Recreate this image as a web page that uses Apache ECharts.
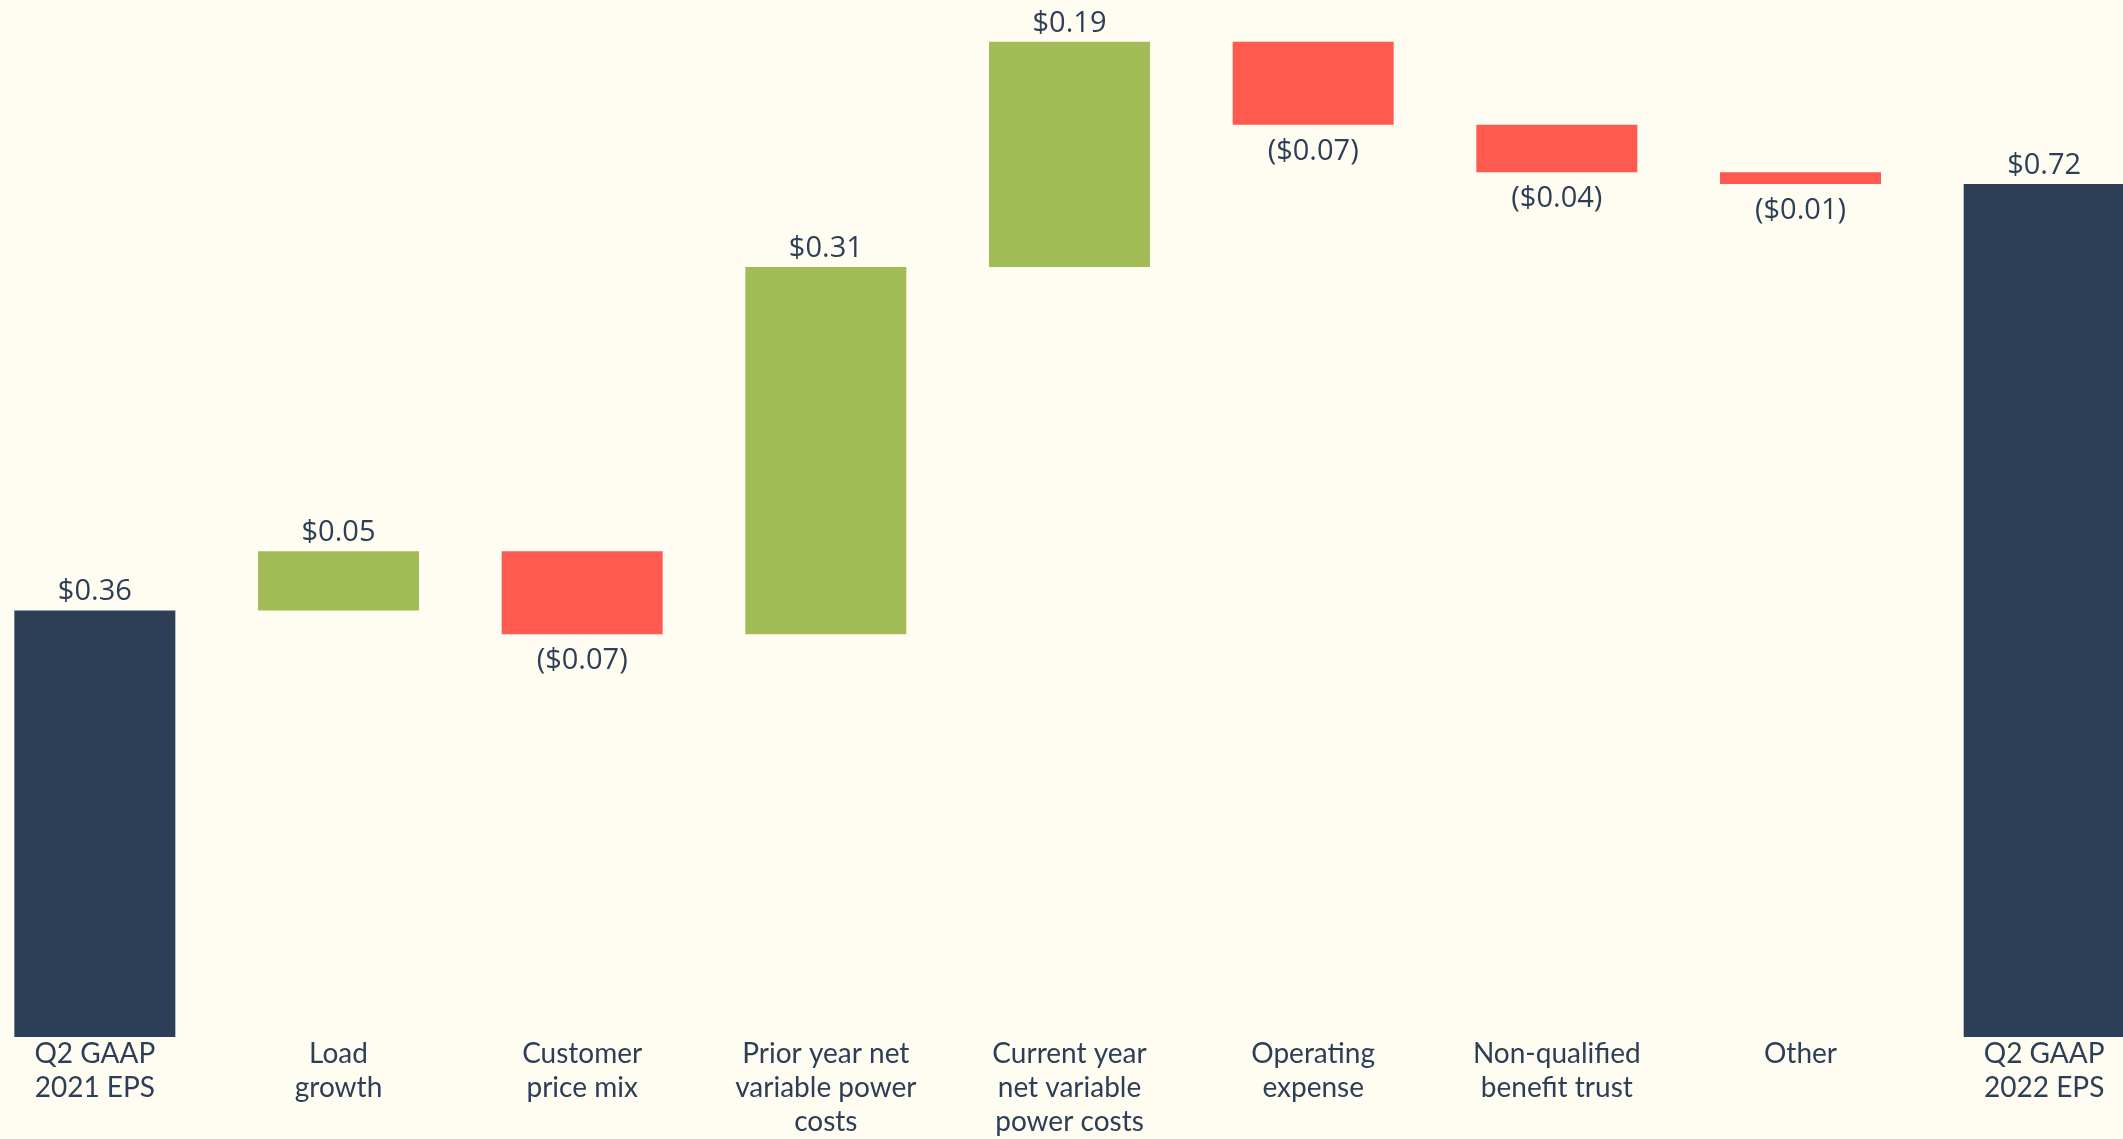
<!DOCTYPE html>
<html>
<head>
<meta charset="utf-8">
<script src="https://cdn.jsdelivr.net/npm/echarts@6/dist/echarts.min.js"></script>
<style>
html,body{margin:0;padding:0;background:#fffdf1;overflow:hidden;width:2123px;height:1139px;}
#c{position:absolute;left:-27px;top:0;width:2193px;height:1139px;}
</style>
</head>
<body>
<div id="c"></div>
<script>
const categories = ["Q2 GAAP\n2021 EPS", "Load\ngrowth", "Customer\nprice mix", "Prior year net\nvariable power\ncosts", "Current year\nnet variable\npower costs", "Operating\nexpense", "Non-qualified\nbenefit trust", "Other", "Q2 GAAP\n2022 EPS"];
const kinds = ["total", "delta", "delta", "delta", "delta", "delta", "delta", "delta", "total"];
const values = [0.36, 0.05, -0.07, 0.31, 0.19, -0.07, -0.04, -0.01, 0.72];

const NAVY = "#2c3f56", GREEN = "#a2bd57", RED = "#ff5a4f";

const base = [], visible = [];
let running = 0;
values.forEach((v, i) => {
  if (kinds[i] === "total") {
    base.push(0); visible.push({value: v, kind: "total", raw: v});
    running = v;
  } else {
    const start = running, end = running + v;
    base.push(Math.min(start, end));
    visible.push({value: Math.abs(v), kind: v >= 0 ? "up" : "down", raw: v});
    running = end;
  }
});

const fmt = v => v < 0 ? "($" + Math.abs(v).toFixed(2) + ")" : "$" + v.toFixed(2);

const chart = echarts.init(document.getElementById("c"));
chart.setOption({
  backgroundColor: "#fffdf1",
  animation: false,
  grid: {left: 0, right: 0, top: 30, bottom: 92, containLabel: false},
  xAxis: {
    type: "category", data: categories,
    axisLine: {show: false}, axisTick: {show: false},
    axisLabel: {interval: 0, color: NAVY, fontFamily: "Lato", fontSize: 28, lineHeight: 34, margin: 0, verticalAlign: "top"}
  },
  yAxis: {type: "value", min: 0, max: 0.85, show: false, splitLine: {show: false}},
  series: [
    {type: "bar", stack: "w", data: base, itemStyle: {color: "transparent"}, barWidth: 161, silent: true},
    {
      type: "bar", stack: "w", barWidth: 161,
      data: visible.map(d => ({
        value: d.value,
        itemStyle: {color: d.kind === "total" ? NAVY : (d.kind === "up" ? GREEN : RED)},
        label: {
          show: true,
          position: d.kind === "down" ? "bottom" : "top",
          distance: d.kind === "down" ? 12 : 4,
          formatter: fmt(d.raw),
          color: NAVY, fontFamily: "Open Sans", fontSize: 29
        }
      }))
    }
  ]
});
</script>
</body>
</html>
